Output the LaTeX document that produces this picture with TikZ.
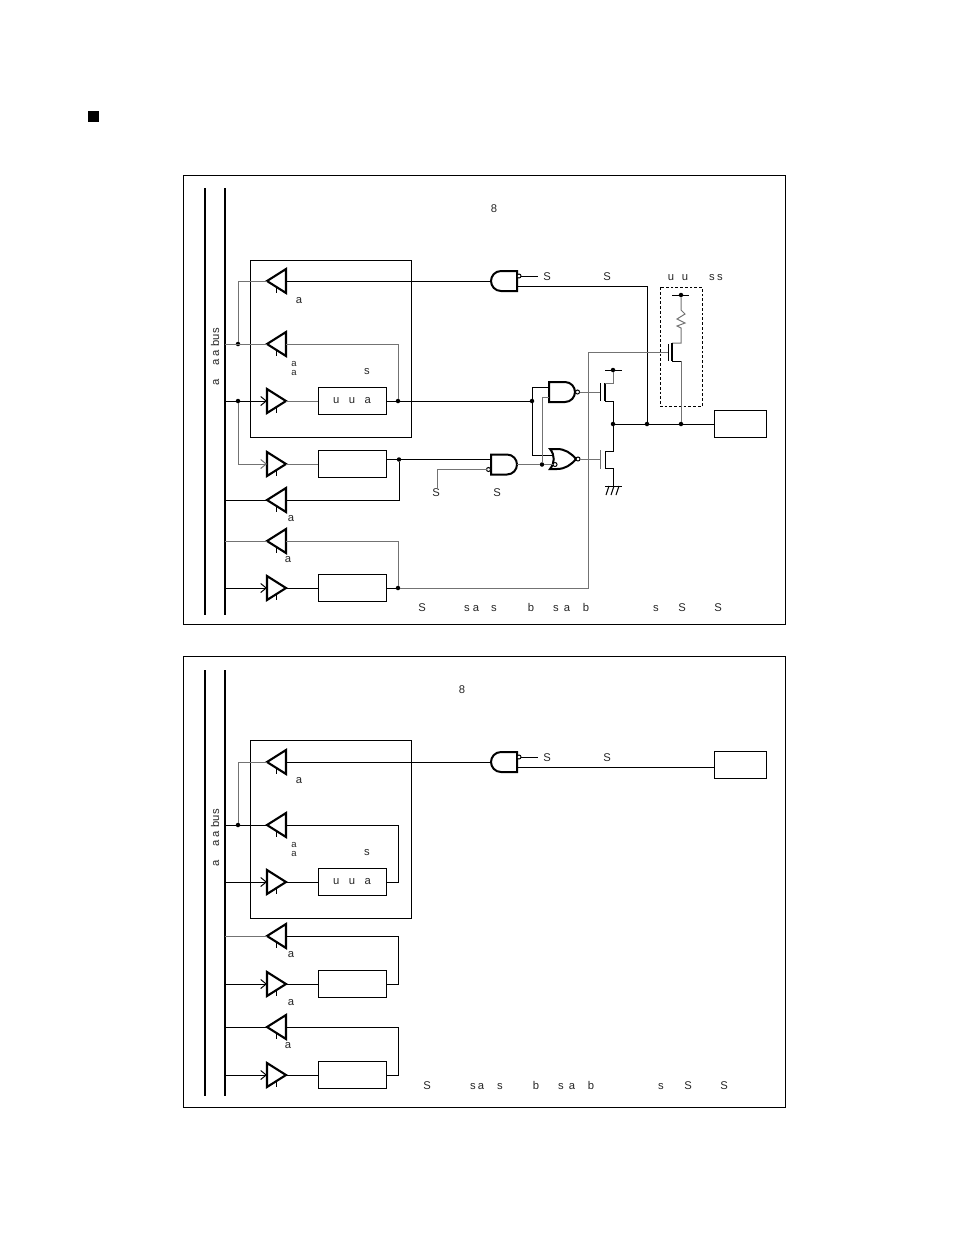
\documentclass[tikz,border=0pt]{standalone}
\usepackage{fontspec}
\setmainfont{Liberation Sans}
\usetikzlibrary{shapes.geometric,arrows.meta}
\tikzset{
  andsym/.pic={
    \draw[line width=.4mm] (-13,-10) -- (3,-10) .. controls (9,-10) and (13,-5) .. (13,0) .. controls (13,5) and (9,10) .. (3,10) -- (-13,10) -- cycle;
    \coordinate (-ina) at (-13,-5);
    \coordinate (-inb) at (-13,5);
    \coordinate (-out) at (13,0);
  },
  orsym/.pic={
    \draw[line width=.4mm] (-13,-10) -- (-6,-10) .. controls (2,-10) and (8,-6) .. (13,0) .. controls (8,6) and (2,10) .. (-6,10) -- (-13,10) .. controls (-8,4) and (-8,-4) .. (-13,-10) -- cycle;
    \coordinate (-ina) at (-9,-4);
    \coordinate (-out) at (13,0);
  }
}
\begin{document}
\begin{tikzpicture}[x=.2mm, y=-.2mm, line width=.2mm]
    \tikzstyle{every node}=[font=\fontsize{6.4}{7}\selectfont, text=black!85, inner sep=0pt, outer sep=0pt]
    \tikzstyle{gwire}=[draw=black!55, line width=.2mm]
    \tikzstyle{bar}=[line width=.42mm]
    \tikzstyle{dot}=[circle, fill=black, minimum size=.9mm]
    \tikzstyle{inv}=[circle, draw, fill=white, line width=.2mm, minimum size=.8mm]
    \tikzstyle{arw}=[-{Straight Barb[length=1.1mm,width=1.8mm]}]
    \tikzstyle{bufr}=[draw, isosceles triangle, isosceles triangle stretches, line width=.42mm, minimum height=3.8mm, minimum width=4.8mm, anchor=apex]
    \tikzstyle{bufl}=[bufr, shape border rotate=180]
    \tikzstyle{latchbox}=[draw, rectangle, minimum width=13.6mm, minimum height=5.4mm]
    \tikzstyle{padbox}=[draw, rectangle, minimum width=10.4mm, minimum height=5.4mm]
    \useasboundingbox (0,0) rectangle (954,1235);
    \fill (88,111) rectangle (99,122);
    \draw (183,175) rectangle (785,624);
    \draw (183,656) rectangle (785,1107);
    \draw (250,260) rectangle (411,437);
    \draw (250,740) rectangle (411,918);
    \draw[dash pattern=on .55mm off .4mm] (660,287) rectangle (702,406);
    \foreach \y/\e in {188/615,670/1096}{
      \draw[bar] (205,\y) -- (205,\e);
      \draw[bar] (225,\y) -- (225,\e);
    }
    % upper panel
    \node (bufa) [bufl] at (267,281) {};
    \node (bufb) [bufl] at (267,344) {};
    \node (bufc) [bufr] at (286,401) {};
    \node (bufd) [bufr] at (286,464) {};
    \node (bufe) [bufl] at (267,500) {};
    \node (buff) [bufl] at (267,541) {};
    \node (bufg) [bufr] at (286,588) {};
    \node (boxc) [latchbox] at (352,401) {u\hspace{1.9mm}u\hspace{1.9mm}a\hspace{1.2mm}};
    \node (boxd) [latchbox] at (352,464) {};
    \node (boxg) [latchbox] at (352,588) {};
    \node (pada) [padbox] at (740,424) {};
    \pic[rotate=180] (gateo) at (504,281) {andsym};
    \pic (gatea) at (504,464.5) {andsym};
    \pic (gatep) at (562,392) {andsym};
    \pic (gaten) at (563,459) {orsym};
    \node (invo) [inv] at (519,276) {};
    \node (inva) [inv] at (488.5,469.5) {};
    \node (invp) [inv] at (577.5,392) {};
    \node (invn) [inv] at (578,459) {};
    \node (invq) [inv] at (555,464.5) {};
    \node (dpa) [dot] at (238,344) {};
    \node (dpb) [dot] at (238,401) {};
    \node (dpc) [dot] at (398,401) {};
    \node (dpd) [dot] at (532,401) {};
    \node (dpe) [dot] at (399,459.5) {};
    \node (dpf) [dot] at (398,588) {};
    \node (dpg) [dot] at (542,464.5) {};
    \node (dph) [dot] at (613,424) {};
    \node (dpi) [dot] at (647,424) {};
    \node (dpj) [dot] at (681,424) {};
    \node (dpk) [dot] at (613,370) {};
    \node (dpl) [dot] at (681,295) {};
    \coordinate (sa) at (538,276);
    \coordinate (sb) at (437,488);
    \coordinate (bb) at (225,344);
    \coordinate (bc) at (225,401);
    \coordinate (be) at (225,500);
    \coordinate (bf) at (225,541);
    \coordinate (bg) at (225,588);
    \draw[gwire] (bufa.apex) -| (dpa);
    \draw[gwire] (bb) -- (bufb.apex);
    \draw[gwire] (bufb.east) -| (dpc);
    \draw[arw] (bc) -- (bufc.west);
    \draw[gwire, arw] (dpb) |- (bufd.west);
    \draw[gwire] (bufc.apex) -- (boxc.west);
    \draw[gwire] (bufd.apex) -- (boxd.west);
    \draw (bufg.apex) -- (boxg.west);
    \draw (boxc.east) -- (dpc) -- (dpd);
    \draw (boxd.east |- dpe) -- (dpe) -- (gatea-ina);
    \draw (boxg.east) -- (dpf);
    \draw (dpe) |- (bufe.east);
    \draw (bufe.apex) -- (be);
    \draw[gwire] (buff.apex) -- (bf);
    \draw[gwire] (buff.east) -| (dpf);
    \draw[arw] (bg) -- (bufg.west);
    \draw (bufa.east) -- (gateo-out);
    \draw (gateo-ina) -| (dpi);
    \draw (invo) -- (sa);
    \draw[gwire] (inva) -| (sb);
    \draw[gwire] (gatea-out) -- (dpg) -- (invq);
    \draw (dpd) |- (gatep-ina);
    \draw (dpd) |- (gaten-ina);
    \draw[gwire] (dpg) |- (gatep-inb);
    \draw[gwire] (dpf) -- (588,588) -- (588,352.5) -- (668,352.5);
    \draw[gwire] (invp) -- (600,392);
    \draw[gwire] (invn) -- (600,459);
    \draw (dph) -- (dpi) -- (dpj) -- (pada.west);
    % output stage
    \draw (600,383) -- (600,401);
    \draw[bar] (605,383) -- (605,401);
    \draw[gwire] (605,383) -- (613,383) -- (dpk);
    \draw (605,370) -- (622,370);
    \draw (605,401) -- (613,401) -- (dph);
    \draw (dph) -- (613,451) -- (605,451) -- (605,468) -- (613,468) -- (613,486);
    \draw[gwire] (600,450) -- (600,469);
    \draw (605,486) -- (622,486);
    \foreach \x in {609,614,619} \draw (\x,486) -- (\x-3,495);
    \draw (672,295) -- (689,295);
    \draw[gwire] (dpl) -- (681,310) -- (685,314) -- (677,319) -- (685,323) -- (677,326) -- (681,328) -- (681,343) -- (672,343);
    \draw (668,344) -- (668,361);
    \draw[bar] (672,343) -- (672,361);
    \draw (672,361) -- (681,361);
    \draw[gwire] (681,361) -- (dpj);
    % lower panel
    \node (bufh) [bufl] at (267,762) {};
    \node (bufi) [bufl] at (267,825) {};
    \node (bufj) [bufr] at (286,882) {};
    \node (bufk) [bufl] at (267,936) {};
    \node (bufl) [bufr] at (286,984) {};
    \node (bufm) [bufl] at (267,1027) {};
    \node (bufn) [bufr] at (286,1075) {};
    \node (boxj) [latchbox] at (352,882) {u\hspace{1.9mm}u\hspace{1.9mm}a\hspace{1.2mm}};
    \node (boxl) [latchbox] at (352,984) {};
    \node (boxn) [latchbox] at (352,1075) {};
    \node (padb) [padbox] at (740,765) {};
    \pic[rotate=180] (gateq) at (504,762) {andsym};
    \node (invr) [inv] at (519,757) {};
    \node (dqa) [dot] at (238,825) {};
    \coordinate (sc) at (538,757);
    \coordinate (bi) at (225,825);
    \coordinate (bj) at (225,882);
    \coordinate (bk) at (225,936);
    \coordinate (bl) at (225,984);
    \coordinate (bm) at (225,1027);
    \coordinate (bn) at (225,1075);
    \coordinate (ri) at (398,825);
    \coordinate (rk) at (398,936);
    \coordinate (rm) at (398,1027);
    \draw[gwire] (bufh.apex) -| (dqa);
    \draw (bi) -- (bufi.apex);
    \draw (bufi.east) -- (ri) |- (boxj.east);
    \draw[arw] (bj) -- (bufj.west);
    \draw (bufj.apex) -- (boxj.west);
    \draw[gwire] (bk) -- (bufk.apex);
    \draw (bufk.east) -- (rk) |- (boxl.east);
    \draw[arw] (bl) -- (bufl.west);
    \draw (bufl.apex) -- (boxl.west);
    \draw (bm) -- (bufm.apex);
    \draw (bufm.east) -- (rm) |- (boxn.east);
    \draw[arw] (bn) -- (bufn.west);
    \draw (bufn.apex) -- (boxn.west);
    \draw (bufh.east) -- (gateq-out);
    \draw (gateq-ina) -- (padb.west |- gateq-ina);
    \draw (invr) -- (sc);
    % enable stubs
    \foreach \b in {bufa,bufb,bufe,buff,bufh,bufi,bufk,bufm}
      \draw ([shift={(9.5,5)}]\b.apex) -- ([shift={(9.5,12)}]\b.apex);
    \foreach \b in {bufc,bufd,bufg,bufj,bufl,bufn}
      \draw ([shift={(-9.5,5)}]\b.apex) -- ([shift={(-9.5,12)}]\b.apex);
    % texts
    \node (busa) [rotate=90, anchor=west] at (215,385) {a\hspace{2.6mm}a\hspace{.7mm}a\hspace{.7mm}bus};
    \node (busb) [rotate=90, anchor=west] at (215,866) {a\hspace{2.6mm}a\hspace{.7mm}a\hspace{.7mm}bus};
    \node (stka) [font=\fontsize{5.4}{5.4}\selectfont] at (294,363.5) {a};
    \node (stkc) [font=\fontsize{5.4}{5.4}\selectfont] at (294,372.5) {a};
    \node (stkb) [font=\fontsize{5.4}{5.4}\selectfont] at (294,844.5) {a};
    \node (stkd) [font=\fontsize{5.4}{5.4}\selectfont] at (294,853.5) {a};
    \foreach \n/\x/\y/\t in {ta/494/209/8,tb/462/690/8,tc/299/301/a,tf/367/372/s,tg/291/519/a,th/288/560/a,
      to/436/493/S,tp/497/493/S,
      tq/299/781/a,tt/367/853/s,tu/291/955/a,tv/291/1003/a,tw/288/1046/a}
      \node (\n) at (\x,\y) {\t};
    \foreach \x/\t in {547/S,607/S,671/u,685/u,712/s,720/s}
      \node[anchor=base] at (\x,280) {\t};
    \foreach \x/\t in {547/S,607/S}
      \node[anchor=base] at (\x,761) {\t};
    \foreach \x/\t in {422/S,467/s,476/a,494/s,531/b,556/s,567/a,586/b,656/s,682/S,718/S}
      \node[anchor=base] at (\x,611.5) {\t};
    \foreach \x/\t in {427/S,473/s,481/a,500/s,536/b,561/s,572/a,591/b,661/s,688/S,724/S}
      \node[anchor=base] at (\x,1089.5) {\t};
\end{tikzpicture}
\end{document}
